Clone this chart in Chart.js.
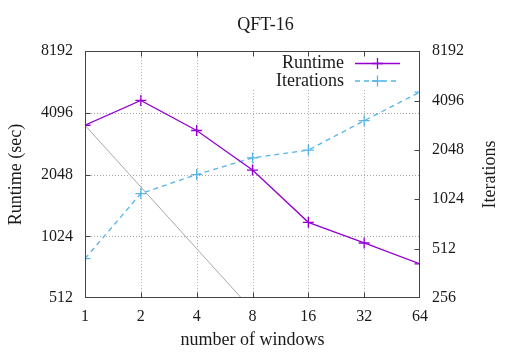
<!DOCTYPE html>
<html><head><meta charset="utf-8">
<script src="https://cdn.jsdelivr.net/npm/chart.js@4"></script>
<style>html,body{margin:0;padding:0;background:#fff}canvas{display:block}</style>
</head><body>
<canvas id="c" width="531" height="354"></canvas>
<script>
const windows = [1, 2, 4, 8, 16, 32, 64];
const runtime = [3565, 4710, 3362, 2156, 1198, 950, 751];
const iterations = [445, 1110, 1449, 1830, 2043, 3087, 4615];
const idealWindows = [1, 2, 4, 8];
const idealRuntime = [3565, 1782, 891, 446];
const xTicks = [1, 2, 4, 8, 16, 32, 64];
const yTicks = [512, 1024, 2048, 4096, 8192];
const y2Ticks = [256, 512, 1024, 2048, 4096, 8192];
const seriesNames = ['Runtime', 'Iterations'];

const FONT = "'Liberation Serif', 'Times New Roman', serif";
const TXT = '#1a1a1a';
const PURPLE = '#9400d3';
const CYAN = '#56b4e9';

function pts(xs, ys) { return xs.map((x, i) => ({x: x, y: ys[i]})); }

const deco = {
  id: 'deco',
  beforeDatasetsDraw(chart) {
    const {ctx, chartArea: a, scales} = chart;
    ctx.save();
    ctx.strokeStyle = '#a8a8a8';
    ctx.lineWidth = 1;
    ctx.setLineDash([1, 2]);
    xTicks.slice(1, -1).forEach(v => {
      const x = Math.round(scales.x.getPixelForValue(v)) + 0.5;
      ctx.beginPath(); ctx.moveTo(x, a.top); ctx.lineTo(x, a.bottom); ctx.stroke();
    });
    yTicks.slice(1, -1).forEach(v => {
      const y = Math.round(scales.y.getPixelForValue(v)) + 0.5;
      ctx.beginPath(); ctx.moveTo(a.left, y); ctx.lineTo(a.right, y); ctx.stroke();
    });
    ctx.restore();
  },
  afterDatasetsDraw(chart) {
    const {ctx, chartArea: a, scales} = chart;
    ctx.save();
    // legend box (opaque)
    ctx.fillStyle = '#ffffff';
    ctx.fillRect(246, Math.ceil(a.top) + 1, a.right - 247, 37);
    ctx.font = '18px ' + FONT;
    ctx.textAlign = 'right';
    ctx.textBaseline = 'middle';
    const rows = [63.5, 81];
    const cols = [PURPLE, CYAN];
    const dashes = [[], [5, 4]];
    seriesNames.forEach((n, i) => {
      ctx.fillStyle = TXT;
      ctx.fillText(n, 344, rows[i]);
      ctx.strokeStyle = cols[i];
      ctx.lineWidth = 1.3;
      ctx.setLineDash(dashes[i]);
      ctx.beginPath(); ctx.moveTo(355, rows[i]); ctx.lineTo(400, rows[i]); ctx.stroke();
      ctx.setLineDash([]);
      ctx.beginPath();
      ctx.moveTo(377.5 - 5.5, rows[i]); ctx.lineTo(377.5 + 5.5, rows[i]);
      ctx.moveTo(377.5, rows[i] - 5.5); ctx.lineTo(377.5, rows[i] + 5.5);
      ctx.stroke();
    });
    // frame
    ctx.strokeStyle = '#444';
    ctx.lineWidth = 1;
    ctx.setLineDash([]);
    const L = Math.round(a.left) + 0.5, R = Math.round(a.right) - 0.5;
    const T = Math.round(a.top) + 0.5, B = Math.round(a.bottom) - 0.5;
    ctx.strokeRect(L, T, R - L, B - T);
    const tl = 5;
    ctx.beginPath();
    xTicks.slice(1, -1).forEach(v => {
      const x = Math.round(scales.x.getPixelForValue(v)) + 0.5;
      ctx.moveTo(x, B); ctx.lineTo(x, B - tl);
      ctx.moveTo(x, T); ctx.lineTo(x, T + tl);
    });
    yTicks.slice(1, -1).forEach(v => {
      const y = Math.round(scales.y.getPixelForValue(v)) + 0.5;
      ctx.moveTo(L, y); ctx.lineTo(L + tl, y);
    });
    y2Ticks.slice(1, -1).forEach(v => {
      const y = Math.round(scales.y2.getPixelForValue(v)) + 0.5;
      ctx.moveTo(R, y); ctx.lineTo(R - tl, y);
    });
    ctx.stroke();
    // right axis title (reads bottom-to-top)
    ctx.save();
    ctx.translate(490, (a.top + a.bottom) / 2);
    ctx.rotate(-Math.PI / 2);
    ctx.textAlign = 'center';
    ctx.textBaseline = 'middle';
    ctx.fillStyle = TXT;
    ctx.font = '18px ' + FONT;
    ctx.fillText('Iterations', 0, 0);
    ctx.restore();
    ctx.restore();
  }
};

const tickFont = {family: FONT, size: 16};
const labelFont = {family: FONT, size: 18};
const noGrid = {display: false, drawTicks: false};

new Chart(document.getElementById('c'), {
  type: 'line',
  data: {
    datasets: [
      {
        label: 'ideal', data: pts(idealWindows, idealRuntime), yAxisID: 'y',
        borderColor: '#a8a8a8', borderWidth: 1, pointRadius: 0, fill: false, tension: 0
      },
      {
        label: seriesNames[0], data: pts(windows, runtime), yAxisID: 'y',
        borderColor: PURPLE, borderWidth: 1.3, pointStyle: 'cross', pointRadius: 5.5,
        pointBorderColor: PURPLE, pointBorderWidth: 1.3, fill: false, tension: 0
      },
      {
        label: seriesNames[1], data: pts(windows, iterations), yAxisID: 'y2',
        borderColor: CYAN, borderWidth: 1.3, borderDash: [5, 4], pointStyle: 'cross', pointRadius: 5.5,
        pointBorderColor: CYAN, pointBorderWidth: 1.3, fill: false, tension: 0
      }
    ]
  },
  options: {
    responsive: false,
    animation: false,
    devicePixelRatio: 1,
    layout: {padding: 0},
    plugins: {
      legend: {display: false},
      tooltip: {enabled: false},
      title: {
        display: true, text: 'QFT-16', color: TXT,
        font: {family: FONT, size: 18, weight: 'normal'},
        padding: {top: 14.2, bottom: 15.4}
      }
    },
    scales: {
      x: {
        type: 'logarithmic', min: 1, max: 64, position: 'bottom',
        grid: noGrid, border: {display: false},
        afterBuildTicks: s => { s.ticks = xTicks.map(v => ({value: v})); },
        afterFit: s => { s.height = 56; },
        ticks: {font: tickFont, color: TXT, padding: 9, maxRotation: 0, autoSkip: false,
                callback: v => String(v)},
        title: {display: true, text: 'number of windows', color: TXT, font: labelFont,
                padding: {top: 0, bottom: 3.2}}
      },
      y: {
        type: 'logarithmic', min: 512, max: 8192, position: 'left',
        grid: noGrid, border: {display: false},
        afterBuildTicks: s => { s.ticks = yTicks.map(v => ({value: v})); },
        afterFit: s => { s.width = 85; },
        ticks: {font: tickFont, color: TXT, padding: 12, autoSkip: false, callback: v => String(v)},
        title: {display: true, text: 'Runtime (sec)', color: TXT, font: labelFont,
                padding: {top: 5.2, bottom: 0}}
      },
      y2: {
        type: 'logarithmic', min: 256, max: 8192, position: 'right',
        grid: noGrid, border: {display: false},
        afterBuildTicks: s => { s.ticks = y2Ticks.map(v => ({value: v})); },
        afterFit: s => { s.width = 111; },
        ticks: {font: tickFont, color: TXT, padding: 12, autoSkip: false, callback: v => String(v)}
      }
    }
  },
  plugins: [deco]
});
</script>
</body></html>
